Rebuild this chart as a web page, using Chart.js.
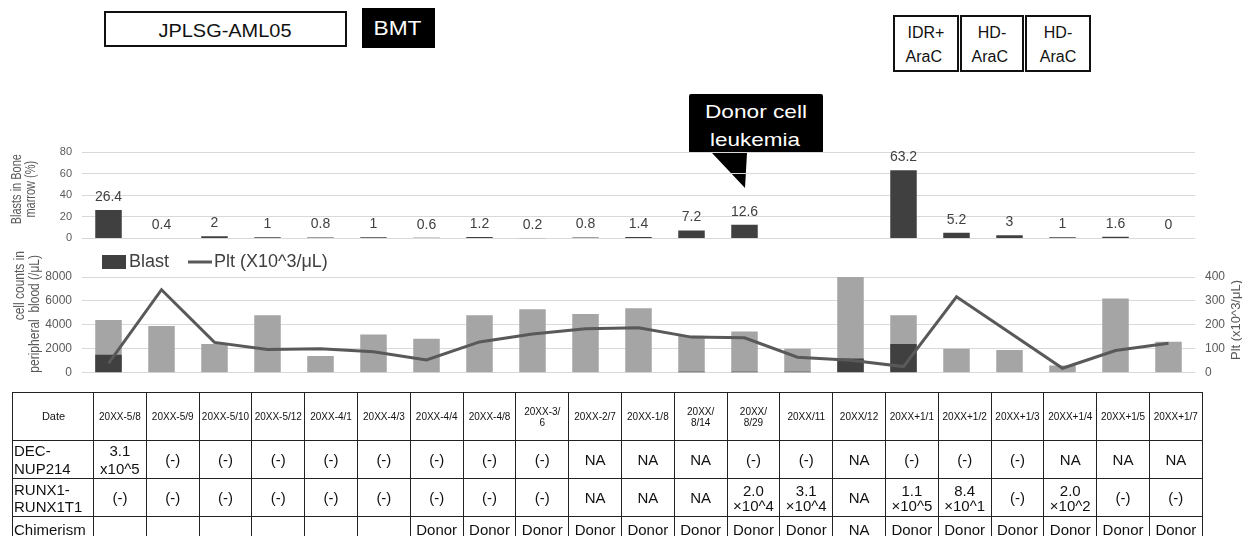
<!DOCTYPE html>
<html>
<head>
<meta charset="utf-8">
<script src="https://cdn.jsdelivr.net/npm/chart.js@4.4.1/dist/chart.umd.min.js"></script>
<style>
  html, body { margin: 0; padding: 0; background: #fff; }
  #wrap { position: relative; width: 1242px; height: 536px; overflow: hidden; background: #fff;
          font-family: "Liberation Sans", Arial, Helvetica, sans-serif; }
  canvas { position: absolute; left: 0; }
  #cTop { top: 130px; }
  #cBot { top: 245px; }
  #notes { position: absolute; left: 0; top: 0; }
  table { position: absolute; left: 12px; top: 392px; border-collapse: collapse; table-layout: fixed; width: 1190px; }
  td { border: 1px solid #222; padding: 0; text-align: center; vertical-align: middle; font-size: 15px;
       color: #111; white-space: nowrap; overflow: visible; }
  tr.hdr td { height: 47px; font-size: 10px; line-height: 11px; }
  tr.hdr td.lab { font-size: 11px; }
  tr.dec td { height: 37px; line-height: 18px; }
  tr.runx td { height: 37px; line-height: 15px; }
  tr.runx td.lab { line-height: 17px; }
  tr.chim td { height: 24px; line-height: 19px; }
  td.lab { text-align: left; padding-left: 1px; }
  tr.hdr td.lab { text-align: center; }
</style>
</head>
<body>
<div id="wrap">
  <svg id="notes" width="1242" height="200" font-family="Liberation Sans, Arial, sans-serif">
    <!-- treatment phases -->
    <rect x="105" y="12" width="241" height="34" fill="#fff" stroke="#111" stroke-width="2"/>
    <text x="225" y="36.5" font-size="18" fill="#111" text-anchor="middle" textLength="133" lengthAdjust="spacingAndGlyphs">JPLSG-AML05</text>
    <rect x="362" y="8" width="73" height="40" fill="#000"/>
    <text x="397.5" y="35" font-size="21" fill="#fff" text-anchor="middle" textLength="48" lengthAdjust="spacingAndGlyphs">BMT</text>

    <rect x="894" y="16" width="64" height="55" fill="#fff" stroke="#111" stroke-width="2"/>
    <rect x="961" y="16" width="62" height="55" fill="#fff" stroke="#111" stroke-width="2"/>
    <rect x="1026" y="16" width="64" height="55" fill="#fff" stroke="#111" stroke-width="2"/>
    <text font-size="16" fill="#111" text-anchor="middle">
      <tspan x="926" y="38">IDR+</tspan><tspan x="926" y="62">AraC</tspan>
      <tspan x="992" y="38">HD-</tspan><tspan x="992" y="62">AraC</tspan>
      <tspan x="1058" y="38">HD-</tspan><tspan x="1058" y="62">AraC</tspan>
    </text>

    <!-- relapse call-out -->
    <path d="M691,94 H821 Q823,94 823,96 V151 Q823,153 821,153 H747 L745,188 L712,153 H691 Q689,153 689,151 V96 Q689,94 691,94 Z" fill="#000"/>
    <text x="756" y="117.5" font-size="19" fill="#fff" text-anchor="middle" textLength="102" lengthAdjust="spacingAndGlyphs">Donor cell</text>
    <text x="755" y="145.5" font-size="19" fill="#fff" text-anchor="middle" textLength="90" lengthAdjust="spacingAndGlyphs">leukemia</text>
  </svg>

  <canvas id="cTop" width="1242" height="125"></canvas>
  <canvas id="cBot" width="1242" height="145"></canvas>
  <table id="tbl"></table>
</div>

<script>
// sampling dates (one per column)
const dates = ['20XX-5/8','20XX-5/9','20XX-5/10','20XX-5/12','20XX-4/1','20XX-4/3','20XX-4/4','20XX-4/8',
               '20XX-3/\n6','20XX-2/7','20XX-1/8','20XX/\n8/14','20XX/\n8/29','20XX/11','20XX/12',
               '20XX+1/1','20XX+1/2','20XX+1/3','20XX+1/4','20XX+1/5','20XX+1/7'];

// blasts in bone marrow (%)
const bmBlast = [26.4, 0.4, 2, 1, 0.8, 1, 0.6, 1.2, 0.2, 0.8, 1.4, 7.2, 12.6, null, null, 63.2, 5.2, 3, 1, 1.6, 0];

// peripheral blood counts (/μL)
const wbc     = [4400, 3900, 2400, 4800, 1400, 3200, 2850, 4800, 5300, 4900, 5400, 3100, 3450, 2000, 8000, 4800, 2000, 1900, 600, 6200, 2600];
const pbBlast = [1500, 0, 0, 50, 0, 0, 0, 0, 0, 0, 0, 80, 80, 80, 1200, 2400, 0, 0, 0, 0, 0];

// platelets (x10^3/μL)
const plt = [39, 347, 127, 97, 100, 88, 54, 129, 162, 184, 188, 149, 146, 65, 52, 26, 317, 168, 19, 93, 123];

// tick settings
const bmTicks  = { min: 0, max: 80, step: 20 };
const wbcTicks = { min: 0, max: 8000, step: 2000 };
const pltTicks = { min: 0, max: 400, step: 100 };

// table rows
const decNup = ['3.1\nx10^5','(-)','(-)','(-)','(-)','(-)','(-)','(-)','(-)','NA','NA','NA','(-)','(-)','NA','(-)','(-)','(-)','NA','NA','NA'];
const runx   = ['(-)','(-)','(-)','(-)','(-)','(-)','(-)','(-)','(-)','NA','NA','NA','2.0\n×10^4','3.1\n×10^4','NA','1.1\n×10^5','8.4\n×10^1','(-)','2.0\n×10^2','(-)','(-)'];
const chim   = ['','','','','','','Donor','Donor','Donor','Donor','Donor','Donor','Donor','Donor','NA','Donor','Donor','Donor','Donor','Donor','Donor'];

const FONT = '"Liberation Sans", Arial, sans-serif';
const TICK = '#595959';
const GRID = '#d9d9d9';
const plain = (v) => String(v);

function rotatedText(ctx, text, x, y, font, align, stretch) {
  ctx.save();
  ctx.translate(x, y);
  ctx.rotate(-Math.PI / 2);
  ctx.scale(1, stretch || 1);
  ctx.font = font;
  ctx.fillStyle = TICK;
  ctx.textAlign = align || 'center';
  ctx.textBaseline = 'middle';
  ctx.fillText(text, 0, 0);
  ctx.restore();
}

// value labels above the marrow blast bars
const barValueLabels = {
  id: 'barValueLabels',
  afterDatasetsDraw(chart) {
    const ctx = chart.ctx;
    const ds = chart.data.datasets[0];
    const meta = chart.getDatasetMeta(0);
    ctx.save();
    ctx.font = '14px ' + FONT;
    ctx.fillStyle = '#404040';
    ctx.textAlign = 'center';
    ctx.textBaseline = 'middle';
    meta.data.forEach((bar, i) => {
      const v = ds.data[i];
      if (v === null || v === undefined) return;
      ctx.fillText(String(v), bar.x, bar.y - 13);
    });
    ctx.restore();
  }
};

const topTitle = {
  id: 'topTitle',
  afterDraw(chart) {
    const ctx = chart.ctx;
    const cy = (chart.chartArea.top + chart.chartArea.bottom) / 2 - 6;
    rotatedText(ctx, 'Blasts in Bone', 17, cy, '11px ' + FONT, 'center', 1.25);
    rotatedText(ctx, 'marrow (%)', 31, cy, '11px ' + FONT, 'center', 1.25);
  }
};

// legend and axis titles of the blood count panel
const botDecor = {
  id: 'botDecor',
  afterDraw(chart) {
    const ctx = chart.ctx;
    const top = chart.chartArea.top;
    ctx.save();
    const ly = top - 15;
    ctx.fillStyle = '#404040';
    ctx.fillRect(102, ly - 7, 24, 14);
    ctx.font = '18px ' + FONT;
    ctx.fillStyle = '#404040';
    ctx.textAlign = 'left';
    ctx.textBaseline = 'middle';
    ctx.fillText(chart.data.datasets[1].label, 129, ly);
    ctx.strokeStyle = '#595959';
    ctx.lineWidth = 3;
    ctx.beginPath();
    ctx.moveTo(188, ly);
    ctx.lineTo(212, ly);
    ctx.stroke();
    ctx.fillText(chart.data.datasets[0].label, 214, ly);
    ctx.restore();

    rotatedText(ctx, 'cell counts in', 20, top - 26, '12px ' + FONT, 'right', 1.2);
    rotatedText(ctx, 'peripheral  blood (/μL)', 35, top - 22, '12px ' + FONT, 'right', 1.2);
    rotatedText(ctx, 'Plt (x10^3/μL)', 1236, top + 43, '13px ' + FONT);
  }
};

new Chart(document.getElementById('cTop'), {
  type: 'bar',
  data: {
    labels: dates,
    datasets: [{
      label: 'Blasts in Bone marrow (%)',
      data: bmBlast,
      backgroundColor: '#404040',
      borderWidth: 0,
      barPercentage: 0.5,
      categoryPercentage: 1
    }]
  },
  options: {
    responsive: false,
    animation: false,
    layout: { padding: { top: 22, right: 47, bottom: 12, left: 0 } },
    plugins: { legend: { display: false }, tooltip: { enabled: false } },
    scales: {
      x: { display: false },
      y: {
        min: bmTicks.min, max: bmTicks.max,
        ticks: { stepSize: bmTicks.step, padding: 10, color: TICK, font: { size: 11, family: FONT }, callback: plain },
        grid: { color: GRID, drawTicks: false, lineWidth: 1 },
        border: { display: false },
        afterFit(s) { s.width = 82; }
      }
    }
  },
  plugins: [barValueLabels, topTitle]
});

new Chart(document.getElementById('cBot'), {
  type: 'bar',
  data: {
    labels: dates,
    datasets: [
      { type: 'line', label: 'Plt (X10^3/μL)', data: plt, yAxisID: 'y1', borderColor: '#595959',
        borderWidth: 3, pointRadius: 0, tension: 0, order: 0 },
      { type: 'bar', label: 'Blast', data: pbBlast, yAxisID: 'y', backgroundColor: '#404040',
        grouped: false, barPercentage: 0.5, categoryPercentage: 1, order: 1 },
      { type: 'bar', label: 'WBC', data: wbc, yAxisID: 'y', backgroundColor: '#a5a5a5',
        grouped: false, barPercentage: 0.5, categoryPercentage: 1, order: 2 }
    ]
  },
  options: {
    responsive: false,
    animation: false,
    layout: { padding: { top: 32, right: 0, bottom: 10, left: 0 } },
    plugins: { legend: { display: false }, tooltip: { enabled: false } },
    scales: {
      x: { display: false },
      y: {
        position: 'left',
        min: wbcTicks.min, max: wbcTicks.max,
        ticks: { stepSize: wbcTicks.step, padding: 10, color: TICK, font: { size: 12, family: FONT }, callback: plain },
        grid: { color: GRID, drawTicks: false },
        border: { display: false },
        afterFit(s) { s.width = 82; }
      },
      y1: {
        position: 'right',
        min: pltTicks.min, max: pltTicks.max,
        ticks: { stepSize: pltTicks.step, padding: 10, color: TICK, font: { size: 12, family: FONT }, callback: plain },
        grid: { display: false, drawTicks: false },
        border: { display: false },
        afterFit(s) { s.width = 47; }
      }
    }
  },
  plugins: [botDecor]
});

// result table under the charts
(function buildTable() {
  const tbl = document.getElementById('tbl');
  const cg = document.createElement('colgroup');
  let c = document.createElement('col'); c.style.width = '81px'; cg.appendChild(c);
  dates.forEach(() => { c = document.createElement('col'); c.style.width = (1109 / dates.length) + 'px'; cg.appendChild(c); });
  tbl.appendChild(cg);
  const cell = (txt) => txt.split('\n').join('<br>');
  const row = (cls, label, vals) => {
    const tr = document.createElement('tr');
    tr.className = cls;
    tr.innerHTML = '<td class="lab">' + cell(label) + '</td>' + vals.map(v => '<td>' + cell(v) + '</td>').join('');
    tbl.appendChild(tr);
  };
  row('hdr', 'Date', dates);
  row('dec', 'DEC-\nNUP214', decNup);
  row('runx', 'RUNX1-\nRUNX1T1', runx);
  row('chim', 'Chimerism', chim);
})();
</script>
</body>
</html>
